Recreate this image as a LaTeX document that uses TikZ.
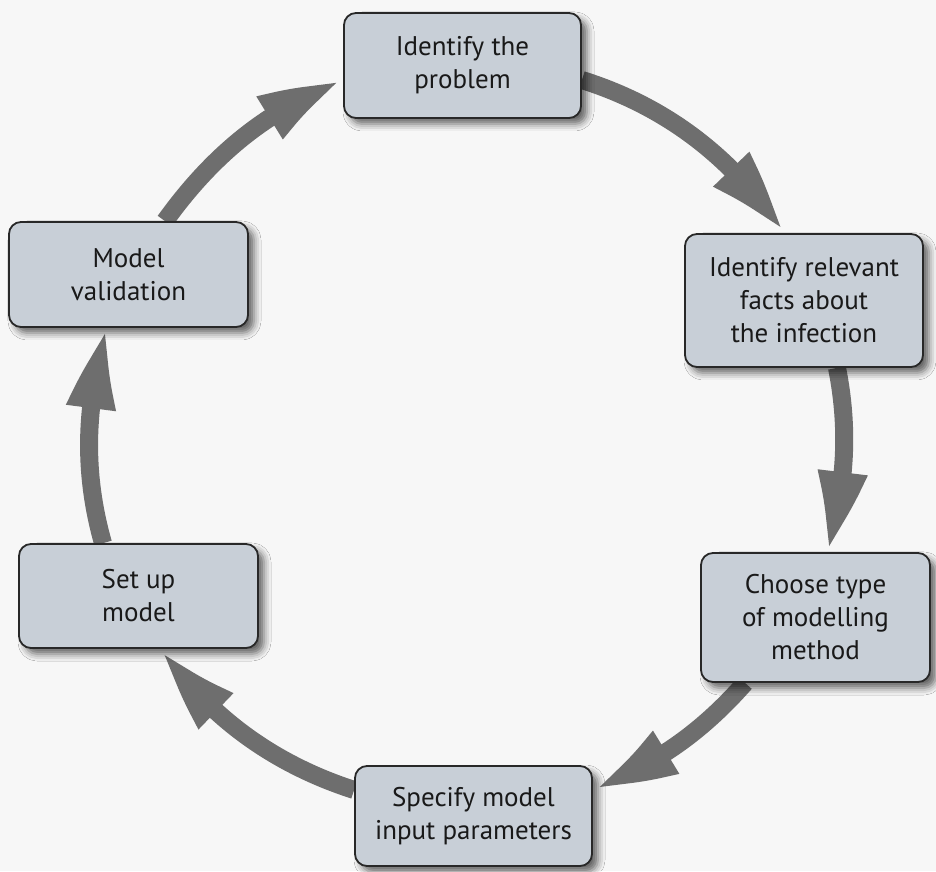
\documentclass[tikz,border=0pt]{standalone}
\usepackage{fontspec}
\setmainfont{PT Sans}
\usetikzlibrary{arrows.meta,bending,shadows.blur,backgrounds}
\definecolor{boxfill}{RGB}{200,207,215}
\definecolor{boxline}{RGB}{40,40,40}
\definecolor{arrgray}{RGB}{110,110,110}
\definecolor{bgcol}{RGB}{247,247,247}
\definecolor{txt}{RGB}{25,25,25}
\tikzset{
  stepbox/.style={draw=boxline, line width=1.8pt, fill=boxfill, rounded corners=12pt,
    align=center, inner sep=0pt, text=txt,
    font=\fontsize{27}{33}\selectfont,
    blur shadow={shadow xshift=6pt, shadow yshift=-6pt, shadow blur radius=7pt, shadow opacity=60}},
  cyc/.style={draw=arrgray, line width=18pt, -{Triangle[length=84pt,width=44pt,bend]}, looseness=0.9}
}
\begin{document}
\begin{tikzpicture}[x=1pt,y=1pt]
\useasboundingbox (0,0) rectangle (936,871);
\node[stepbox, minimum width=237pt, minimum height=105pt] (b1) at (462.5,805.5) {Identify the\\problem};
\node[stepbox, minimum width=238pt, minimum height=133pt] (b2) at (804,570.5) {Identify relevant\\facts about\\the infection};
\node[stepbox, minimum width=229pt, minimum height=129pt] (b3) at (815.5,253.5) {Choose type\\of modelling\\method};
\node[stepbox, minimum width=237pt, minimum height=100pt] (b4) at (473.5,55) {Specify model\\input parameters};
\node[stepbox, minimum width=239pt, minimum height=104pt] (b5) at (138.5,275) {Set up\\model};
\node[stepbox, minimum width=239pt, minimum height=105pt] (b6) at (128.5,596.5) {Model\\validation};
\begin{scope}[on background layer]
\fill[bgcol] (0,0) rectangle (936,871);
\draw[cyc] ([yshift=-14.5pt]b1.east) to[out=-17.4,in=123.2] ([xshift=-21pt]b2.north);
\draw[cyc] ([xshift=33pt]b2.south) to[out=-78.8,in=72.5] ([xshift=10.5pt]b3.north);
\draw[cyc] ([xshift=-70.5pt]b3.south) to[out=-131.3,in=19.6] ([yshift=28pt]b4.east);
\draw[cyc] ([yshift=26pt]b4.west) to[out=162.1,in=-55.5] ([xshift=23.5pt]b5.south);
\draw[cyc] ([xshift=-35.5pt]b5.north) to[out=105.9,in=252.6] ([xshift=-20.5pt]b6.south);
\draw[cyc] ([xshift=36.5pt]b6.north) to[out=54.3,in=199.1] ([yshift=-16.5pt]b1.west);
\end{scope}
\end{tikzpicture}
\end{document}
